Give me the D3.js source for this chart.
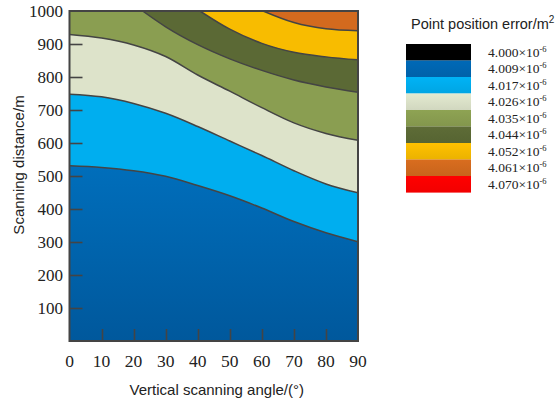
<!DOCTYPE html>
<html><head><meta charset="utf-8">
<script src="https://cdn.jsdelivr.net/npm/d3@7"></script>
<style>body{margin:0;background:#fff;overflow:hidden} svg{display:block}</style>
</head><body>
<script>
// ---- data ----
const angleTicks = [0,10,20,30,40,50,60,70,80,90];
const distanceTicks = [100,200,300,400,500,600,700,800,900,1000];
const legendValues = ["4.000","4.009","4.017","4.026","4.035","4.044","4.052","4.061","4.070"];
const legendColors = ["#000000","#0066B2","#00AEEF","#DDE3CA","#8A9E51","#5B6935","#F8BC00","#D36A1E","#FF0000"];
// contour boundaries: angle (deg) -> distance (m)
const c1Angles = [0,10,20,30,40,50,60,70,80,90];
const c1Values = [531,526,516,499,471,440,403,362,328,301];
const c2Angles = [0,10,20,30,40,50,60,70,80,90];
const c2Values = [748,740,720,690,650,606,562,516,476,449];
const c3Angles = [0,10,20,30,40,50,60,70,80,90];
const c3Values = [929,918,897,862,806,757,707,661,629,608];
const c4Angles = [22.8,30,40,50,60,70,80,90];
const c4Values = [1000,952,898,855,820,791,770,754];
const c5Angles = [40.7,50,60,70,80,90];
const c5Values = [1000,945,902,875,861,852];
const c6Angles = [60.4,70,80,90];
const c6Values = [1000,965,946,940];
// band above each boundary (index into legendColors)
const bandAbove = [2,3,4,5,6,7];

const W=555,H=405;
const svg=d3.select("body").append("svg").attr("width",W).attr("height",H);
const x=d3.scaleLinear().domain([0,90]).range([69.5,358]);
const y=d3.scaleLinear().domain([0,1000]).range([341,11]);

const defs=svg.append("defs");
defs.append("clipPath").attr("id","plotclip").append("rect")
  .attr("x",x(0)).attr("y",y(1000)).attr("width",x(90)-x(0)).attr("height",y(0)-y(1000));
const g1=defs.append("linearGradient").attr("id","blueGrad").attr("gradientUnits","userSpaceOnUse")
  .attr("x1",0).attr("x2",0).attr("y1",y(530)).attr("y2",y(0));
g1.append("stop").attr("offset",0).attr("stop-color","#006EBB");
g1.append("stop").attr("offset",1).attr("stop-color","#00589C");

const plot=svg.append("g").attr("clip-path","url(#plotclip)");
plot.append("rect").attr("x",x(0)).attr("y",y(1000)).attr("width",x(90)-x(0)).attr("height",y(0)-y(1000))
  .attr("fill","url(#blueGrad)");

const curves=[[c1Angles,c1Values],[c2Angles,c2Values],[c3Angles,c3Values],[c4Angles,c4Values],[c5Angles,c5Values],[c6Angles,c6Values]];
const area=d3.area().x(d=>x(d[0])).y0(y(1000)).y1(d=>y(d[1])).curve(d3.curveMonotoneX);
const line=d3.line().x(d=>x(d[0])).y(d=>y(d[1])).curve(d3.curveMonotoneX);
curves.forEach((c,i)=>{
  const pts=c[0].map((a,j)=>[a,c[1][j]]);
  plot.append("path").attr("d",area(pts)).attr("fill",legendColors[bandAbove[i]]);
});
curves.forEach((c,i)=>{
  const pts=c[0].map((a,j)=>[a,c[1][j]]);
  plot.append("path").attr("d",line(pts)).attr("fill","none").attr("stroke","#444").attr("stroke-width",1.5);
});

// ticks inside
const axc="#444";
svg.append("g").selectAll("line").data(distanceTicks.filter(d=>d<1000)).join("line")
  .attr("x1",x(0)).attr("x2",x(0)+13).attr("y1",d=>Math.round(y(d))+0.5).attr("y2",d=>Math.round(y(d))+0.5)
  .attr("stroke",axc).attr("stroke-width",1.6);
svg.append("g").selectAll("line").data(angleTicks.filter(d=>d>0&&d<90)).join("line")
  .attr("x1",d=>Math.round(x(d))+0.5).attr("x2",d=>Math.round(x(d))+0.5).attr("y1",y(0)).attr("y2",y(0)-12)
  .attr("stroke",axc).attr("stroke-width",1.6);
// frame
svg.append("rect").attr("x",x(0)).attr("y",y(1000)).attr("width",x(90)-x(0)).attr("height",y(0)-y(1000))
  .attr("fill","none").attr("stroke",axc).attr("stroke-width",2);

const serif="'Liberation Serif','Times New Roman',serif", sans="'Liberation Sans',Arial,sans-serif";
svg.append("g").selectAll("text").data(distanceTicks).join("text")
  .attr("x",63).attr("y",d=>y(d)+5.5).attr("text-anchor","end")
  .attr("font-family",serif).attr("font-size",17).attr("fill","#222").text(d=>d);
svg.append("g").selectAll("text").data(angleTicks).join("text")
  .attr("x",d=>x(d)).attr("y",367).attr("text-anchor","middle")
  .attr("font-family",serif).attr("font-size",17.5).attr("fill","#222").text(d=>d);

svg.append("text").attr("x",(x(0)+x(90))/2+3).attr("y",395).attr("text-anchor","middle")
  .attr("font-family",sans).attr("font-size",15).attr("fill","#222").text("Vertical scanning angle/(°)");
svg.append("text").attr("transform","translate(24,165) rotate(-90)").attr("text-anchor","middle")
  .attr("font-family",sans).attr("font-size",15).attr("fill","#222").text("Scanning distance/m");

// legend
const lt=svg.append("text").attr("x",411).attr("y",29).attr("font-family",sans).attr("font-size",14.5).attr("fill","#222");
lt.append("tspan").text("Point position error/m");
lt.append("tspan").attr("font-size",10).attr("dy",-6).text("2");

const lg=svg.append("g");
legendColors.forEach((c,i)=>{
  const gid="lg"+i;
  const gr=defs.append("linearGradient").attr("id",gid).attr("x1",0).attr("x2",0).attr("y1",0).attr("y2",1);
  gr.append("stop").attr("offset",0).attr("stop-color",d3.color(c).brighter(0.08));
  gr.append("stop").attr("offset",1).attr("stop-color",d3.color(c).darker(0.15));
  lg.append("rect").attr("x",406).attr("y",44+16.5*i).attr("width",65).attr("height",16.6).attr("fill",`url(#${gid})`);
  const t=lg.append("text").attr("x",488).attr("y",56.5+16.5*i).attr("font-family",serif).attr("font-size",13.5).attr("fill","#222");
  t.append("tspan").text(legendValues[i]+"×10");
  t.append("tspan").attr("font-size",8.5).attr("dy",-5).text("-6");
});
</script>
</body></html>
